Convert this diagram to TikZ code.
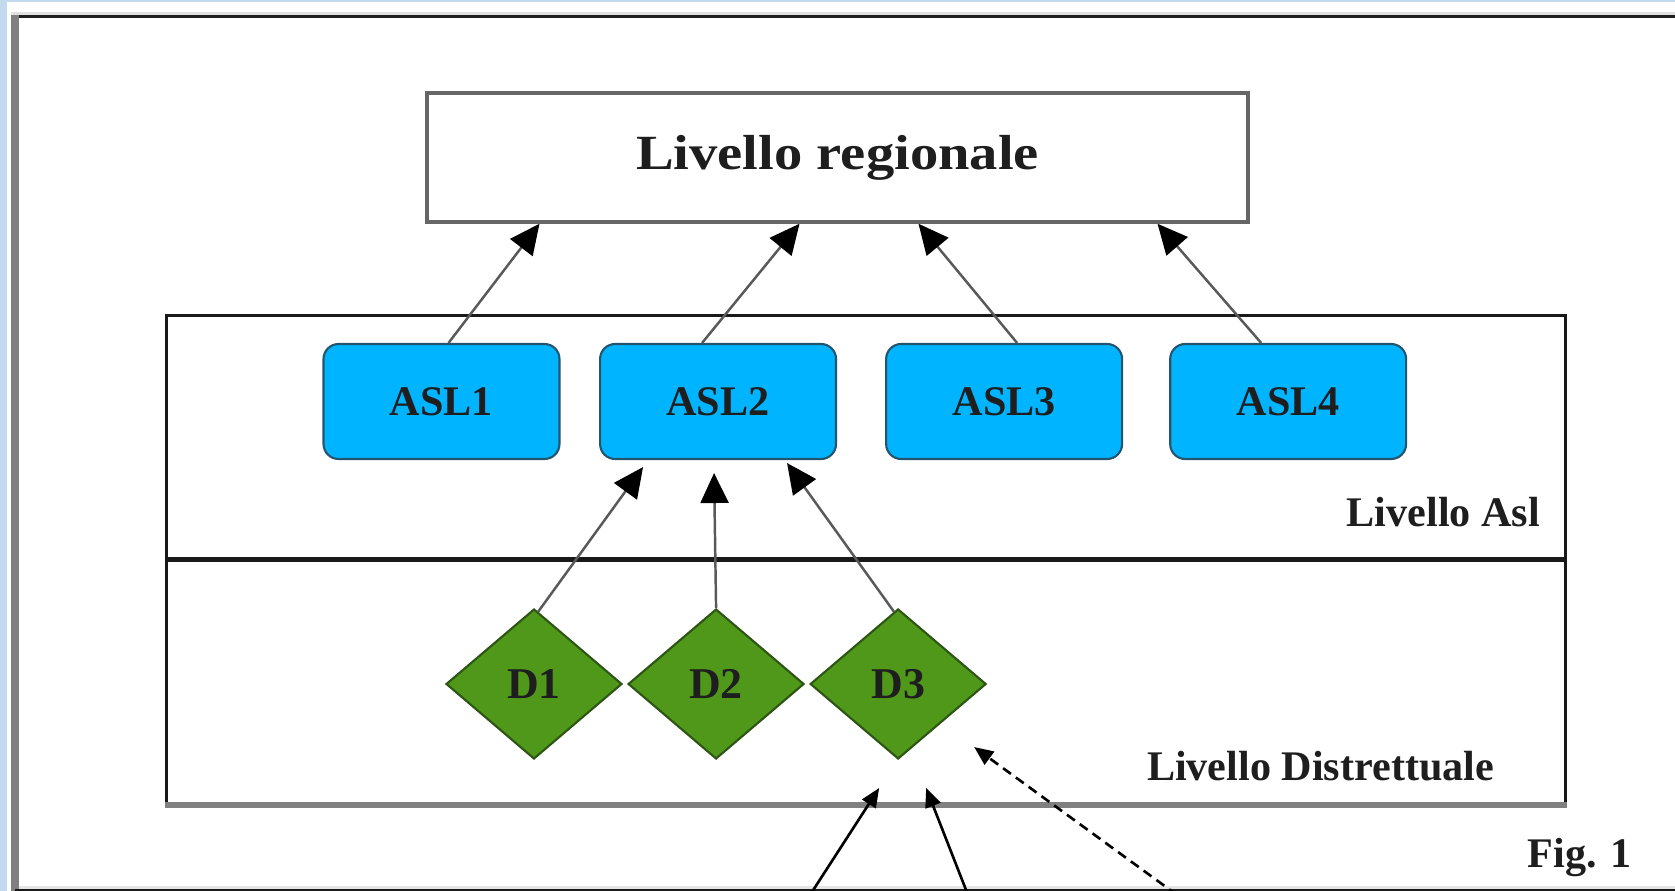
\documentclass[tikz,border=0pt]{standalone}
\usepackage{fontspec}
\setmainfont{Liberation Serif}
\newfontfamily\regfont[FakeStretch=1.15]{Liberation Serif}
\usetikzlibrary{positioning,shapes.geometric,arrows.meta,calc}
\definecolor{aslblue}{RGB}{0,180,255}
\definecolor{aslline}{RGB}{35,85,110}
\definecolor{dgreen}{RGB}{80,152,26}
\definecolor{dline}{RGB}{45,85,20}
\definecolor{bgblue}{RGB}{194,217,238}
\definecolor{txt}{RGB}{30,30,30}

\begin{document}
\begin{tikzpicture}[x=0.02cm, y=-0.02cm,
    lbl/.style = {text=txt, font=\bfseries\fontsize{24}{28}\selectfont},
    reg/.style = {draw=black!60, line width=2pt, minimum width=16.42cm, minimum height=2.58cm, text=txt, font=\regfont\bfseries\fontsize{28}{32}\selectfont},
    asl/.style = {lbl, draw=aslline, line width=1.2pt, fill=aslblue, rounded corners=0.3cm, minimum width=4.72cm, minimum height=2.3cm},
    distr/.style = {lbl, diamond, draw=dline, line width=1.2pt, fill=dgreen, minimum width=3.52cm, minimum height=3cm, inner sep=0pt, font=\bfseries\fontsize{25}{28}\selectfont},
    band/.style = {draw=black!90, line width=1.6pt, minimum width=28cm, minimum height=4.85cm, inner sep=0pt},
    up/.style = {draw=black!65, line width=1.4pt, -{Triangle[length=0.6cm,width=0.56cm,color=black]}},
    feed/.style = {draw=black, line width=1.5pt, -{Triangle[length=0.38cm,width=0.32cm]}}]

    \useasboundingbox (0,0) rectangle (1675,891);
    \fill[bgblue] (0,0) rectangle (1675,891);
    \fill[white] (7,2) rectangle (1675,891);
    \fill[black!12] (11,12) rectangle (1675,15);
    \fill[black!88] (15,15) rectangle (1675,18);
    \fill[black!50] (11,15) rectangle (19,891);
    \fill[black!10] (19,886) rectangle (1675,888.5);
    \fill[black!90] (15,888.5) rectangle (1675,891);

    \node[reg] (top) at (837.5,157.5) {Livello regionale};

    \node[band] (bandasl) at (866,437) {};
    \node[band, below=0pt of bandasl] (banddis) {};
    \draw[black!50, line width=3pt] (banddis.south west) -- (banddis.south east);

    \node[asl] (asl1) at (441.5,401.5) {ASL1};
    \node[asl, right=0.77cm of asl1] (asl2) {ASL2};
    \node[asl, right=0.96cm of asl2] (asl3) {ASL3};
    \node[asl, right=0.92cm of asl3] (asl4) {ASL4};

    \node[distr] (d1) at (534,684) {D1};
    \node[distr, right=0.08cm of d1] (d2) {D2};
    \node[distr, right=0.08cm of d2] (d3) {D3};

    \node[lbl, anchor=base east] (lasl) at ($(bandasl.south east)+(-21,-33)$) {Livello Asl};
    \node[lbl, anchor=base east] (ldis) at ($(banddis.south east)+(-67,-24)$) {Livello Distrettuale};
    \node[lbl, anchor=base east] (fig) at (1638,867) {Fig. 1};

    \draw[up] ($(asl1.north)+(7,0)$) -- ($(top.south)+(-298,0)$);
    \draw[up] ($(asl2.north)+(-16,0)$) -- ($(top.south)+(-38,0)$);
    \draw[up] ($(asl3.north)+(13,0)$) -- ($(top.south)+(81,0)$);
    \draw[up] ($(asl4.north)+(-27,0)$) -- ($(top.south)+(320,0)$);

    \draw[up] ($(d1.north)+(4,4)$) -- ($(asl2.south)+(-75,7)$);
    \draw[up] (d2.north) -- ($(asl2.south)+(-4,13)$);
    \draw[up] ($(d3.north)+(-4,4)$) -- ($(asl2.south)+(69,3)$);

    \coordinate (src1) at (810,895);
    \coordinate (src2) at (968,895);
    \coordinate (src3) at (1177,895);
    \draw[feed] (src1) -- ($(d3.south)+(-19,28)$);
    \draw[feed] (src2) -- ($(d3.south)+(28,28)$);
    \draw[feed, dash pattern=on 5.5pt off 3.5pt] (src3) -- ($(d3.south)+(76,-13)$);

\end{tikzpicture}
\end{document}
